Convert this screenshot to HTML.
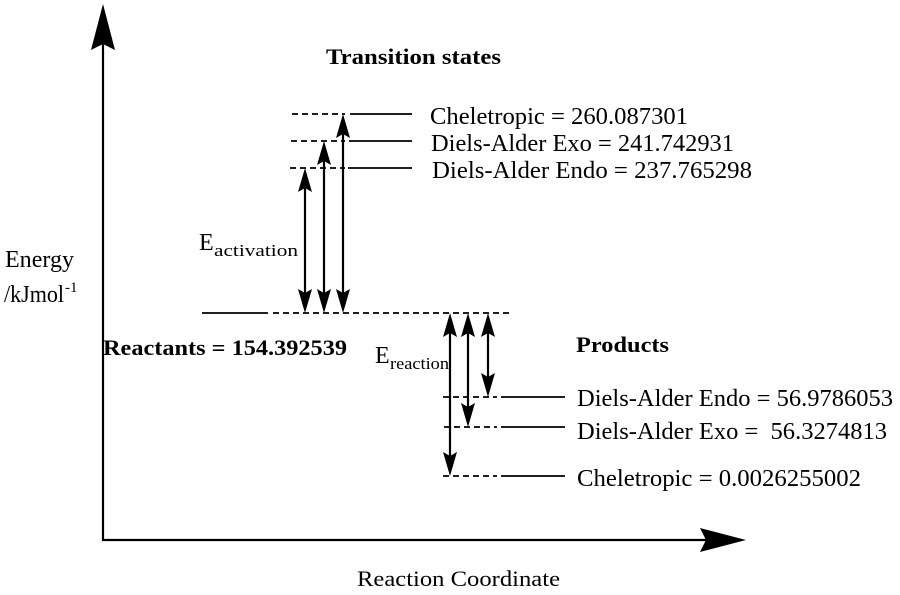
<!DOCTYPE html>
<html><head><meta charset="utf-8"><style>
html,body{margin:0;padding:0;background:#fff;}
svg{display:block;}
text{font-family:"Liberation Serif","Times New Roman",Times,serif;fill:#000;}
</style></head><body>
<svg width="900" height="595" viewBox="0 0 900 595" xmlns="http://www.w3.org/2000/svg" font-family="Liberation Serif, Times New Roman, serif">
<g stroke="#000" stroke-width="2.2" fill="none">
<line x1="103" y1="40" x2="103" y2="541"/>
<line x1="102" y1="540" x2="712" y2="540"/>
</g>
<polygon points="103,4 115,50 103,44 91,50" fill="#000"/>
<polygon points="746,540 700,528 706,540 700,552" fill="#000"/>
<g stroke="#000" stroke-width="1.8">
<line x1="292" y1="114" x2="345" y2="114" stroke-dasharray="6,4"/>
<line x1="350" y1="114" x2="412" y2="114"/>
<line x1="291" y1="141" x2="345" y2="141" stroke-dasharray="6,4"/>
<line x1="349" y1="141" x2="412" y2="141"/>
<line x1="290" y1="168" x2="345" y2="168" stroke-dasharray="6,4"/>
<line x1="348" y1="168" x2="412" y2="168"/>
<line x1="202" y1="313" x2="268" y2="313"/>
<line x1="273" y1="313" x2="512" y2="313" stroke-dasharray="6,4"/>
<line x1="443" y1="397" x2="497" y2="397" stroke-dasharray="6,4"/>
<line x1="501" y1="397" x2="565" y2="397"/>
<line x1="444" y1="427" x2="497" y2="427" stroke-dasharray="6,4"/>
<line x1="501" y1="427" x2="565" y2="427"/>
<line x1="443" y1="476" x2="497" y2="476" stroke-dasharray="6,4"/>
<line x1="501" y1="476" x2="565" y2="476"/>
</g>
<g stroke="#000" stroke-width="2.2">
<line x1="305" y1="175" x2="305" y2="306"/>
<line x1="324" y1="148" x2="324" y2="306"/>
<line x1="343" y1="121" x2="343" y2="306"/>
<line x1="450" y1="320" x2="450" y2="469"/>
<line x1="468" y1="320" x2="468" y2="420"/>
<line x1="488" y1="320" x2="488" y2="390"/>
</g>
<g fill="#000">
<polygon points="305,168 312,192 305,188 298,192"/>
<polygon points="305,313 312,289 305,293 298,289"/>
<polygon points="324,141 331,165 324,161 317,165"/>
<polygon points="324,313 331,289 324,293 317,289"/>
<polygon points="343,114 350,138 343,134 336,138"/>
<polygon points="343,313 350,289 343,293 336,289"/>
<polygon points="450,313 457,337 450,333 443,337"/>
<polygon points="450,476 457,452 450,456 443,452"/>
<polygon points="468,313 475,337 468,333 461,337"/>
<polygon points="468,427 475,403 468,407 461,403"/>
<polygon points="488,313 495,337 488,333 481,337"/>
<polygon points="488,397 495,373 488,377 481,373"/>
</g>
<text x="326" y="64" font-size="22" font-weight="bold" textLength="175" lengthAdjust="spacingAndGlyphs">Transition states</text>
<text x="430" y="124" font-size="24" textLength="258" lengthAdjust="spacingAndGlyphs">Cheletropic = 260.087301</text>
<text x="431" y="151" font-size="24" textLength="303" lengthAdjust="spacingAndGlyphs">Diels-Alder Exo = 241.742931</text>
<text x="432" y="178" font-size="24" textLength="320" lengthAdjust="spacingAndGlyphs">Diels-Alder Endo = 237.765298</text>
<text x="199" y="250" font-size="24">E</text>
<text x="214" y="256" font-size="17" textLength="84" lengthAdjust="spacingAndGlyphs">activation</text>
<text x="5" y="267" font-size="24" textLength="69" lengthAdjust="spacingAndGlyphs">Energy</text>
<text x="4" y="302" font-size="24" textLength="60" lengthAdjust="spacingAndGlyphs">/kJmol</text>
<text x="65" y="292" font-size="15">-1</text>
<text x="103" y="355" font-size="22" font-weight="bold" textLength="244" lengthAdjust="spacingAndGlyphs">Reactants = 154.392539</text>
<text x="375" y="363" font-size="24">E</text>
<text x="390" y="369" font-size="17" textLength="59" lengthAdjust="spacingAndGlyphs">reaction</text>
<text x="576" y="352" font-size="22" font-weight="bold" textLength="93" lengthAdjust="spacingAndGlyphs">Products</text>
<text x="577" y="406" font-size="24" textLength="316" lengthAdjust="spacingAndGlyphs">Diels-Alder Endo = 56.9786053</text>
<text x="577" y="439" font-size="24" textLength="310" lengthAdjust="spacingAndGlyphs" xml:space="preserve">Diels-Alder Exo =  56.3274813</text>
<text x="577" y="486" font-size="24" textLength="284" lengthAdjust="spacingAndGlyphs">Cheletropic = 0.0026255002</text>
<text x="357" y="586" font-size="22" textLength="203" lengthAdjust="spacingAndGlyphs">Reaction Coordinate</text>
</svg>
</body></html>
